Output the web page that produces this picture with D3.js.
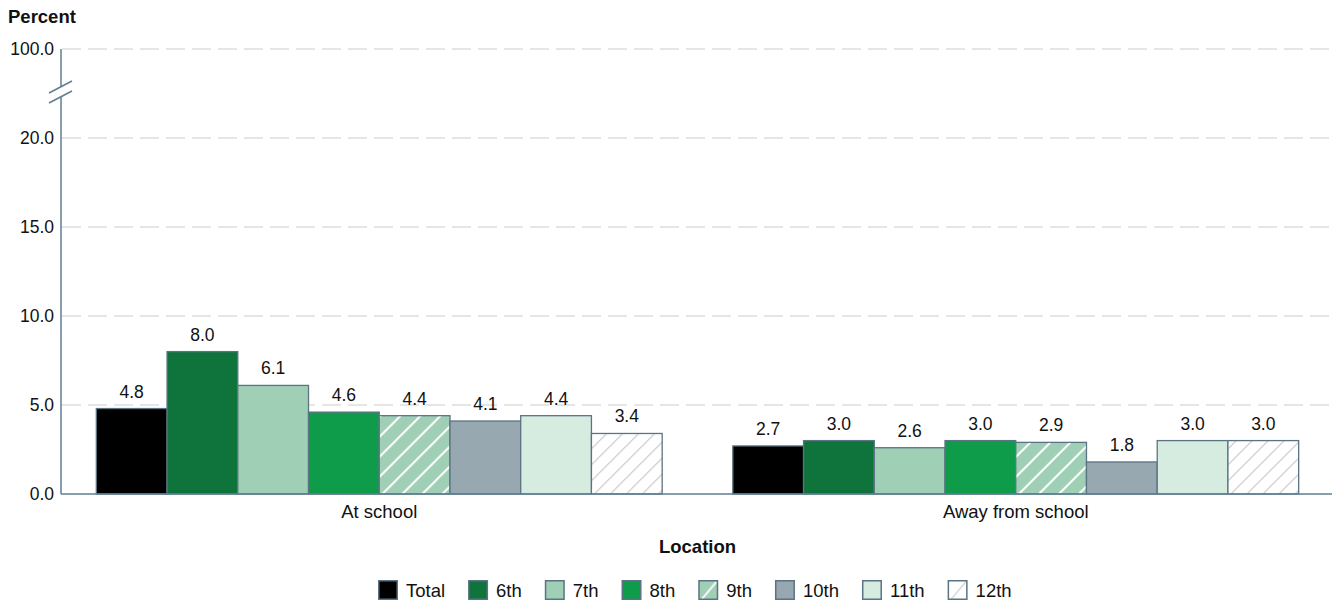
<!DOCTYPE html>
<html><head><meta charset="utf-8">
<script src="https://cdn.jsdelivr.net/npm/d3@7/dist/d3.min.js"></script>
<style>
body{margin:0;background:#fff;}
svg{display:block;font-family:"Liberation Sans",Arial,sans-serif;}
</style></head>
<body>
<svg id="chart" width="1334" height="604"></svg>
<script>
const locations = ["At school", "Away from school"];
const grades = ["Total", "6th", "7th", "8th", "9th", "10th", "11th", "12th"];
const atSchool = [4.8, 8.0, 6.1, 4.6, 4.4, 4.1, 4.4, 3.4];
const awayFromSchool = [2.7, 3.0, 2.6, 3.0, 2.9, 1.8, 3.0, 3.0];
const yTicks = [0, 5, 10, 15, 20, 100];
const yTickLabels = ["0.0", "5.0", "10.0", "15.0", "20.0", "100.0"];
const seriesByLocation = [atSchool, awayFromSchool];

const fills = {
  "Total": "#000000", "6th": "#0e743c", "7th": "#9fcfb5", "8th": "#0f9c4a",
  "9th": "url(#hatch9)", "10th": "#97a8b0", "11th": "#d6ece1", "12th": "url(#hatch12)"
};
const legendFills = Object.assign({}, fills, {"9th": "url(#lhatch9)", "12th": "url(#lhatch12)"});
const strokeCol = "#5b7383";
const axisCol = "#5f7f90";

const svg = d3.select("#chart");
const left = 61, right = 1334, bottom = 494;

const y = d3.scaleLinear().domain([0, 20, 100]).range([bottom, 138, 49]);
const x0 = d3.scaleBand().domain(locations).range([left, right]).paddingInner(0.111).paddingOuter(0.0555);
const x1 = d3.scaleBand().domain(grades).range([0, x0.bandwidth()]).padding(0);

const defs = svg.append("defs");
function hatch(id, bg, col, size, w) {
  const p = defs.append("pattern").attr("id", id).attr("patternUnits", "userSpaceOnUse")
    .attr("width", size).attr("height", size);
  p.append("rect").attr("width", size).attr("height", size).attr("fill", bg);
  p.append("path").attr("d", `M0,${size} L${size},0 M${-size/2},${size/2} L${size/2},${-size/2} M${size/2},${size*1.5} L${size*1.5},${size/2}`)
    .attr("stroke", col).attr("stroke-width", w);
}
hatch("hatch9", "#9fcfb5", "#ffffff", 20, 2);
hatch("hatch12", "#ffffff", "#c8c8c8", 16, 1.2);
function lhatch(id, bg, col, w) {
  const p = defs.append("pattern").attr("id", id).attr("patternUnits", "objectBoundingBox")
    .attr("patternContentUnits", "objectBoundingBox").attr("width", 1).attr("height", 1);
  p.append("rect").attr("width", 1).attr("height", 1).attr("fill", bg);
  p.append("path").attr("d", "M0.15,1 L0.95,0.05").attr("stroke", col).attr("stroke-width", w);
}
lhatch("lhatch9", "#9fcfb5", "#ffffff", 0.1);
lhatch("lhatch12", "#ffffff", "#c8c8c8", 0.06);

// gridlines
svg.append("g").selectAll("line").data(yTicks.filter(d => d > 0)).join("line")
  .attr("x1", left + 1).attr("x2", right).attr("y1", d => y(d)).attr("y2", d => y(d))
  .attr("stroke", "#cccccc").attr("stroke-width", 1).attr("stroke-dasharray", "19,7");

// y axis
const yAxis = d3.axisLeft(y).tickValues(yTicks).tickSize(0).tickPadding(7)
  .tickFormat((d, i) => yTickLabels[i]);
const gy = svg.append("g").attr("transform", `translate(${left},0)`).call(yAxis);
gy.select(".domain").remove();
gy.selectAll("text").attr("font-size", 17.5).attr("fill", "#111").attr("font-family", "'Liberation Sans',Arial,sans-serif");

const bTop = y(100) + 38, bBot = y(100) + 48;
svg.append("line").attr("x1", left).attr("x2", left).attr("y1", y(100)).attr("y2", bTop)
  .attr("stroke", axisCol).attr("stroke-width", 1.5);
svg.append("line").attr("x1", left).attr("x2", left).attr("y1", bBot).attr("y2", bottom)
  .attr("stroke", axisCol).attr("stroke-width", 1.5);
[bTop + 6, bBot + 6].forEach(c => {
  svg.append("line").attr("x1", left - 12).attr("x2", left + 11).attr("y1", c).attr("y2", c - 12)
    .attr("stroke", axisCol).attr("stroke-width", 1.5);
});

// bars
const groups = svg.append("g").selectAll("g").data(locations).join("g")
  .attr("transform", d => `translate(${x0(d)},0)`);
groups.each(function(loc, li) {
  const vals = seriesByLocation[li].map((v, i) => ({g: grades[i], v}));
  const g = d3.select(this);
  g.selectAll("rect").data(vals).join("rect")
    .attr("x", d => x1(d.g)).attr("width", x1.bandwidth())
    .attr("y", d => y(d.v)).attr("height", d => y(0) - y(d.v))
    .attr("fill", d => fills[d.g]).attr("stroke", strokeCol).attr("stroke-width", 1.3);
  g.selectAll("text").data(vals).join("text")
    .attr("x", d => x1(d.g) + x1.bandwidth() / 2).attr("y", d => y(d.v) - 11)
    .attr("text-anchor", "middle").attr("font-size", 17.5).attr("fill", "#111")
    .text(d => d.v.toFixed(1));
});

// x axis
svg.append("line").attr("x1", left).attr("x2", right - 2).attr("y1", bottom).attr("y2", bottom)
  .attr("stroke", axisCol).attr("stroke-width", 1.5);
const xAxis = d3.axisBottom(x0).tickSize(0).tickPadding(11);
const gx = svg.append("g").attr("transform", `translate(0,${bottom})`).call(xAxis);
gx.select(".domain").remove();
gx.selectAll("text").attr("font-size", 18.5).attr("fill", "#111").attr("font-family", "'Liberation Sans',Arial,sans-serif");

// titles
svg.append("text").attr("x", 8).attr("y", 23).attr("font-size", 18.5).attr("font-weight", "bold")
  .attr("fill", "#111").text("Percent");
svg.append("text").attr("x", (left + right) / 2).attr("y", 553).attr("text-anchor", "middle")
  .attr("font-size", 18.5).attr("font-weight", "bold").attr("fill", "#111").text("Location");

// legend
const lg = svg.append("g");
let lx = 378;
grades.forEach(gr => {
  const item = lg.append("g").attr("transform", `translate(${lx},580)`);
  item.append("rect").attr("x", 0.75).attr("y", 0.75).attr("width", 18.5).attr("height", 18.5)
    .attr("fill", legendFills[gr]).attr("stroke", strokeCol).attr("stroke-width", 1.5);
  const t = item.append("text").attr("x", 28).attr("y", 17).attr("font-size", 18.5).attr("fill", "#111").text(gr);
  lx += 28 + t.node().getComputedTextLength() + 23;
});
</script>
</body></html>
